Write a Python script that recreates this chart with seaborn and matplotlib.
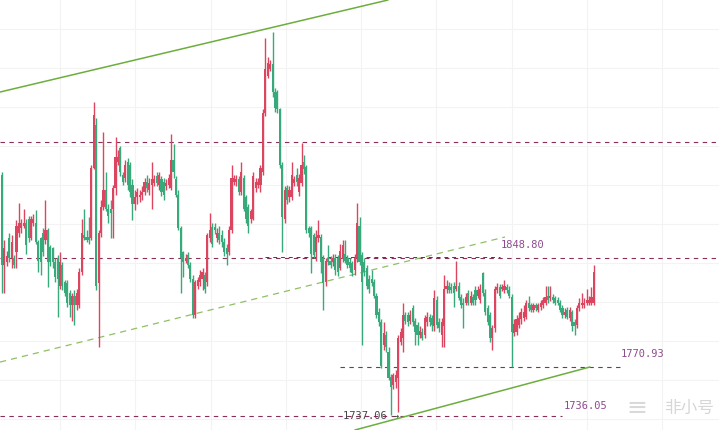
import numpy as np
import pandas as pd
import matplotlib
matplotlib.use("Agg")
import matplotlib.pyplot as plt
import seaborn as sns

# OHLC values (one candle per entry)
opens = [1908,1844,1846,1863,1849,1849,1853,1867,1870,1872,
         1874,1877,1863,1874,1874,1860,1863,1867,1862,1869,
         1857,1856,1846,1849,1829,1844,1832,1831,1824,1815,
         1822,1815,1815,1839,1865,1864,1864,1863,1913,1944,
         1831,1867,1885,1897,1884,1884,1884,1899,1917,1927,
         1908,1906,1917,1915,1901,1887,1892,1892,1894,1896,
         1903,1897,1901,1902,1907,1901,1905,1903,1900,1901,
         1899,1919,1905,1894,1870,1853,1847,1851,1844,1834,
         1808,1829,1832,1834,1837,1832,1863,1871,1871,1863,
         1867,1865,1860,1856,1853,1869,1903,1903,1905,1896,
         1906,1892,1885,1877,1877,1899,1901,1901,1910,1952,
         1979,1984,1987,1967,1967,1955,1915,1877,1899,1892,
         1892,1902,1908,1896,1902,1917,1914,1870,1870,1865,
         1853,1863,1864,1849,1832,1849,1847,1846,1849,1849,
         1842,1849,1852,1849,1846,1845,1840,1849,1872,1851,
         1846,1842,1834,1834,1832,1822,1810,1803,1787,1794,
         1782,1764,1758,1760,1763,1789,1792,1808,1808,1804,
         1813,1804,1801,1794,1796,1794,1803,1807,1806,1800,
         1819,1803,1794,1800,1827,1829,1828,1829,1827,1829,
         1821,1817,1817,1824,1817,1821,1826,1822,1819,1838,
         1824,1813,1808,1792,1799,1826,1828,1827,1826,1828,
         1826,1821,1795,1796,1801,1805,1806,1807,1817,1815,
         1812,1815,1812,1814,1815,1817,1822,1820,1821,1820,
         1819,1817,1813,1808,1812,1806,1810,1803,1801,1813,
         1815,1815,1817,1817,1817,1817]
highs = [1910,1862,1854,1867,1865,1851,1876,1888,1877,1884,
         1877,1879,1879,1880,1883,1862,1864,1870,1890,1870,
         1858,1857,1849,1851,1853,1846,1833,1833,1826,1824,
         1826,1827,1842,1877,1884,1869,1878,1915,1960,1949,
         1869,1890,1939,1910,1887,1890,1901,1935,1926,1929,
         1910,1919,1920,1917,1905,1897,1899,1897,1900,1906,
         1908,1906,1917,1908,1910,1910,1907,1906,1905,1909,
         1937,1930,1907,1897,1872,1854,1852,1853,1846,1837,
         1833,1835,1840,1842,1839,1867,1881,1874,1874,1870,
         1872,1869,1863,1859,1872,1915,1908,1908,1907,1917,
         1908,1894,1887,1884,1910,1906,1906,1915,1955,2006,
         1992,1990,2010,1970,1969,1956,1917,1900,1901,1900,
         1917,1907,1913,1909,1931,1922,1915,1872,1872,1867,
         1869,1876,1866,1851,1849,1858,1850,1852,1852,1851,
         1859,1862,1862,1851,1849,1847,1852,1888,1878,1853,
         1849,1844,1837,1840,1834,1824,1813,1805,1803,1797,
         1785,1766,1767,1769,1794,1799,1817,1810,1810,1812,
         1815,1806,1803,1800,1799,1808,1810,1809,1808,1826,
         1822,1806,1806,1837,1833,1832,1831,1832,1847,1832,
         1823,1820,1824,1826,1825,1823,1829,1829,1830,1839,
         1827,1815,1810,1801,1829,1831,1830,1830,1833,1830,
         1829,1823,1805,1808,1810,1813,1815,1819,1822,1817,
         1817,1817,1817,1819,1821,1829,1829,1829,1823,1822,
         1821,1819,1815,1813,1814,1814,1812,1805,1815,1820,
         1824,1820,1827,1822,1828,1844]
lows = [1824,1824,1843,1846,1842,1842,1842,1864,1867,1870,
        1852,1860,1862,1872,1859,1839,1837,1850,1859,1828,
        1843,1842,1832,1807,1827,1826,1822,1814,1807,1804,
        1801,1812,1813,1837,1862,1860,1859,1862,1912,1826,
        1785,1864,1883,1882,1874,1863,1863,1894,1915,1907,
        1901,1903,1897,1892,1876,1883,1887,1889,1890,1894,
        1896,1894,1884,1900,1900,1897,1893,1890,1897,1899,
        1897,1906,1892,1869,1824,1835,1845,1842,1832,1806,
        1806,1827,1829,1826,1824,1829,1860,1857,1866,1860,
        1859,1857,1850,1844,1851,1867,1901,1900,1894,1894,
        1882,1874,1867,1874,1876,1896,1899,1896,1908,1950,
        1977,1982,1964,1953,1952,1913,1853,1874,1887,1889,
        1890,1900,1900,1893,1900,1909,1867,1864,1838,1849,
        1847,1860,1838,1812,1829,1844,1842,1843,1837,1836,
        1840,1846,1845,1842,1839,1836,1837,1846,1844,1787,
        1836,1827,1824,1829,1820,1806,1800,1770,1783,1782,
        1762,1737.06,1755,1756,1739,1787,1782,1802,1800,1802,
        1800,1787,1787,1792,1790,1792,1800,1800,1797,1797,
        1799,1796,1785,1785,1824,1824,1824,1814,1825,1819,
        1813,1799,1815,1815,1815,1815,1815,1820,1817,1822,
        1808,1801,1789,1783,1796,1824,1820,1825,1824,1824,
        1820,1770.93,1793,1794,1799,1802,1804,1805,1811,1810,
        1810,1811,1810,1812,1813,1815,1817,1818,1817,1815,
        1815,1810,1806,1806,1805,1804,1797,1794,1799,1811,
        1813,1813,1815,1815,1815,1815]
closes = [1844,1856,1850,1849,1860,1844,1872,1874,1874,1874,
          1858,1863,1877,1877,1860,1847,1846,1853,1869,1846,
          1846,1846,1835,1834,1846,1829,1824,1817,1815,1822,
          1815,1824,1839,1867,1863,1862,1862,1913,1951,1829,
          1867,1885,1897,1884,1879,1881,1899,1921,1921,1910,
          1903,1915,1901,1896,1887,1892,1896,1894,1896,1903,
          1899,1902,1905,1905,1902,1908,1896,1894,1902,1906,
          1919,1910,1894,1870,1849,1846,1849,1844,1834,1808,
          1832,1833,1837,1839,1827,1865,1869,1859,1869,1867,
          1862,1860,1853,1852,1869,1906,1906,1905,1896,1910,
          1884,1877,1872,1882,1907,1903,1903,1913,1952,1984,
          1988,1987,1967,1956,1955,1915,1878,1897,1890,1897,
          1908,1905,1903,1906,1915,1912,1869,1867,1852,1851,
          1864,1865,1846,1831,1847,1846,1844,1849,1840,1839,
          1854,1858,1847,1844,1842,1838,1849,1874,1846,1832,
          1839,1829,1827,1831,1822,1808,1803,1772,1795,1785,
          1763,1757,1765,1765,1792,1796,1808,1804,1803,1808,
          1803,1796,1794,1797,1792,1806,1807,1803,1801,1820,
          1801,1799,1803,1827,1829,1826,1826,1824,1829,1820,
          1815,1815,1821,1817,1822,1817,1819,1826,1827,1824,
          1810,1803,1792,1799,1827,1828,1822,1828,1829,1826,
          1822,1796,1802,1805,1806,1810,1810,1817,1813,1812,
          1815,1813,1815,1817,1819,1821,1819,1822,1819,1817,
          1817,1812,1808,1810,1807,1812,1800,1800,1813,1817,
          1817,1817,1819,1819,1821,1839]

# marked price levels
level_top = 1931.6
level_res = 1848.80
level_sup = 1770.93
level_low = 1736.05
low_mark = 1737.06

RED = "#dc4560"
GREEN = "#37a97a"

sns.set_theme(style="white")

df = pd.DataFrame({"o": opens, "h": highs, "l": lows, "c": closes})
df["i"] = np.arange(len(df))
df["col"] = np.where(df.c >= df.o, RED, GREEN)

fig = plt.figure(figsize=(7.19, 4.30), dpi=100)
ax = fig.add_axes([0, 0, 1, 1])

# faint grid
ax.set_xticks((np.arange(60, 719, 75.3) - 2) / 2.416)
ax.set_yticks(np.arange(1733.8, 2033, 27.85))
ax.grid(True, color="#f3f3f3", lw=0.8)
ax.tick_params(length=0, labelbottom=False, labelleft=False)
for s in ax.spines.values():
    s.set_visible(False)

# candles
ax.vlines(df.i, df.l, df.h, colors=df.col, lw=1.0, zorder=3)
ax.bar(df.i, (df.c - df.o).abs().clip(lower=0.8),
       bottom=df[["o", "c"]].min(axis=1), width=0.88,
       color=df.col, linewidth=0, zorder=4)

# horizontal levels
dash = (0, (4, 4))
lvcol = "#8a2f5a"
ax.axhline(level_top, color=lvcol, ls=dash, lw=0.8, zorder=2)
ax.axhline(level_res, color=lvcol, ls=dash, lw=0.8, zorder=2)
ax.plot([108.9, 206.1], [level_res + 0.8, level_res + 0.8], color="#3b3b6e",
        ls=dash, lw=0.7, zorder=2)
ax.plot([139.9, 255.8], [level_sup, level_sup], color=lvcol, ls=dash, lw=0.8, zorder=2)
ax.plot([-1, 231.8], [level_low, level_low], color=lvcol, ls=dash, lw=0.8, zorder=2)

# trend lines
sns.lineplot(x=[-0.83, 159.8], y=[1967.3, 2033], ax=ax, color="#6cae3e", lw=1.1)
sns.lineplot(x=[146.1, 243.4], y=[1726, 1771.0], ax=ax, color="#6cae3e", lw=1.1)
ax.plot([-0.83, 208.2], [1774.5, 1863.8], color="#8fc064", lw=0.9,
        ls=(0, (5, 4)), zorder=2)

# labels
lab = dict(color="#8e4a8e", fontsize=7.5, family="DejaVu Sans Mono", va="center")
ax.text(206.3, 1858.0, f"{level_res:.2f}", **lab)
ax.text(256.0, 1780.4, f"{level_sup:.2f}", **lab)
ax.text(232.4, 1743.2, f"{level_low:.2f}", **lab)
ax.text(141.0, 1736.3, f"{low_mark:.2f} →", color="#444444", fontsize=7.5,
        family="DejaVu Sans Mono", va="center", zorder=5)

# watermark
ax.text(258.5, 1741.5, "≡", color="#d9d9d9", fontsize=18, va="center",
        family=["DejaVu Sans"])
ax.text(274.0, 1741.5, "非小号", color="#d6d6d6", fontsize=12, va="center",
        family=["Noto Sans CJK SC", "DejaVu Sans"])

ax.set_xlim(-0.83, 296.8)
ax.set_ylim(1726, 2033)

fig.savefig("out.png", dpi=100)
